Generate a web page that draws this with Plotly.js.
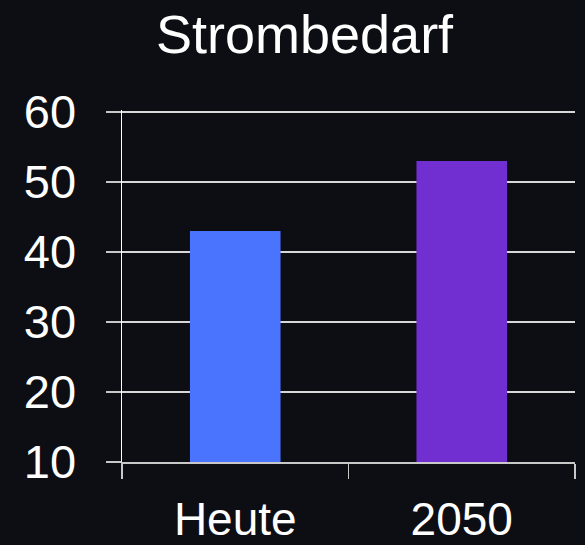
<!DOCTYPE html>
<html><head><meta charset="utf-8">
<script src="https://cdn.plot.ly/plotly-3.0.1.min.js"></script>
<style>html,body{margin:0;padding:0;background:#0d0e13;}</style>
</head><body><div id="chart" style="width:585px;height:545px;"></div>
<script>
const categories = ["Heute", "2050"];
const values = [43, 53];
const barColors = ["#4a73fe", "#712ed0"];
const yTicks = [10, 20, 30, 40, 50, 60];

const trace = {
  type: "bar", x: categories, y: values, marker: {color: barColors}, width: 0.4,
  hoverinfo: "none"
};
const layout = {
  width: 585, height: 545,
  paper_bgcolor: "#0d0e13", plot_bgcolor: "#0d0e13",
  margin: {l: 122, r: 10, t: 110, b: 83},
  font: {family: "Liberation Sans, Arial, sans-serif", color: "#ffffff"},
  title: {text: "Strombedarf", font: {size: 54, color: "#ffffff"}, x: 0.403, xanchor: "center", xref: "paper", y: 1 - 34/545, yanchor: "middle", yref: "container"},
  showlegend: false,
  xaxis: {
    type: "category", tickson: "boundaries", ticks: "outside", ticklen: 15, tickcolor: "#c8c8c8", tickwidth: 1.5,
    showline: true, linecolor: "#c8c8c8", linewidth: 1.5, showgrid: false, zeroline: false,
    tickfont: {size: 46, color: "#ffffff"}, ticklabelstandoff: 16
  },
  yaxis: {
    range: [10, 60.29], tickvals: yTicks, ticks: "outside", ticklen: 15, tickcolor: "#c8c8c8", tickwidth: 1.5,
    showline: true, linecolor: "#ffffff", linewidth: 1.5, showgrid: true, gridcolor: "#d8d8d8", gridwidth: 1.5,
    zeroline: false, tickfont: {size: 47, color: "#ffffff"}, ticklabelstandoff: 20
  }
};
Plotly.newPlot("chart", [trace], layout, {staticPlot: true});
</script></body></html>
